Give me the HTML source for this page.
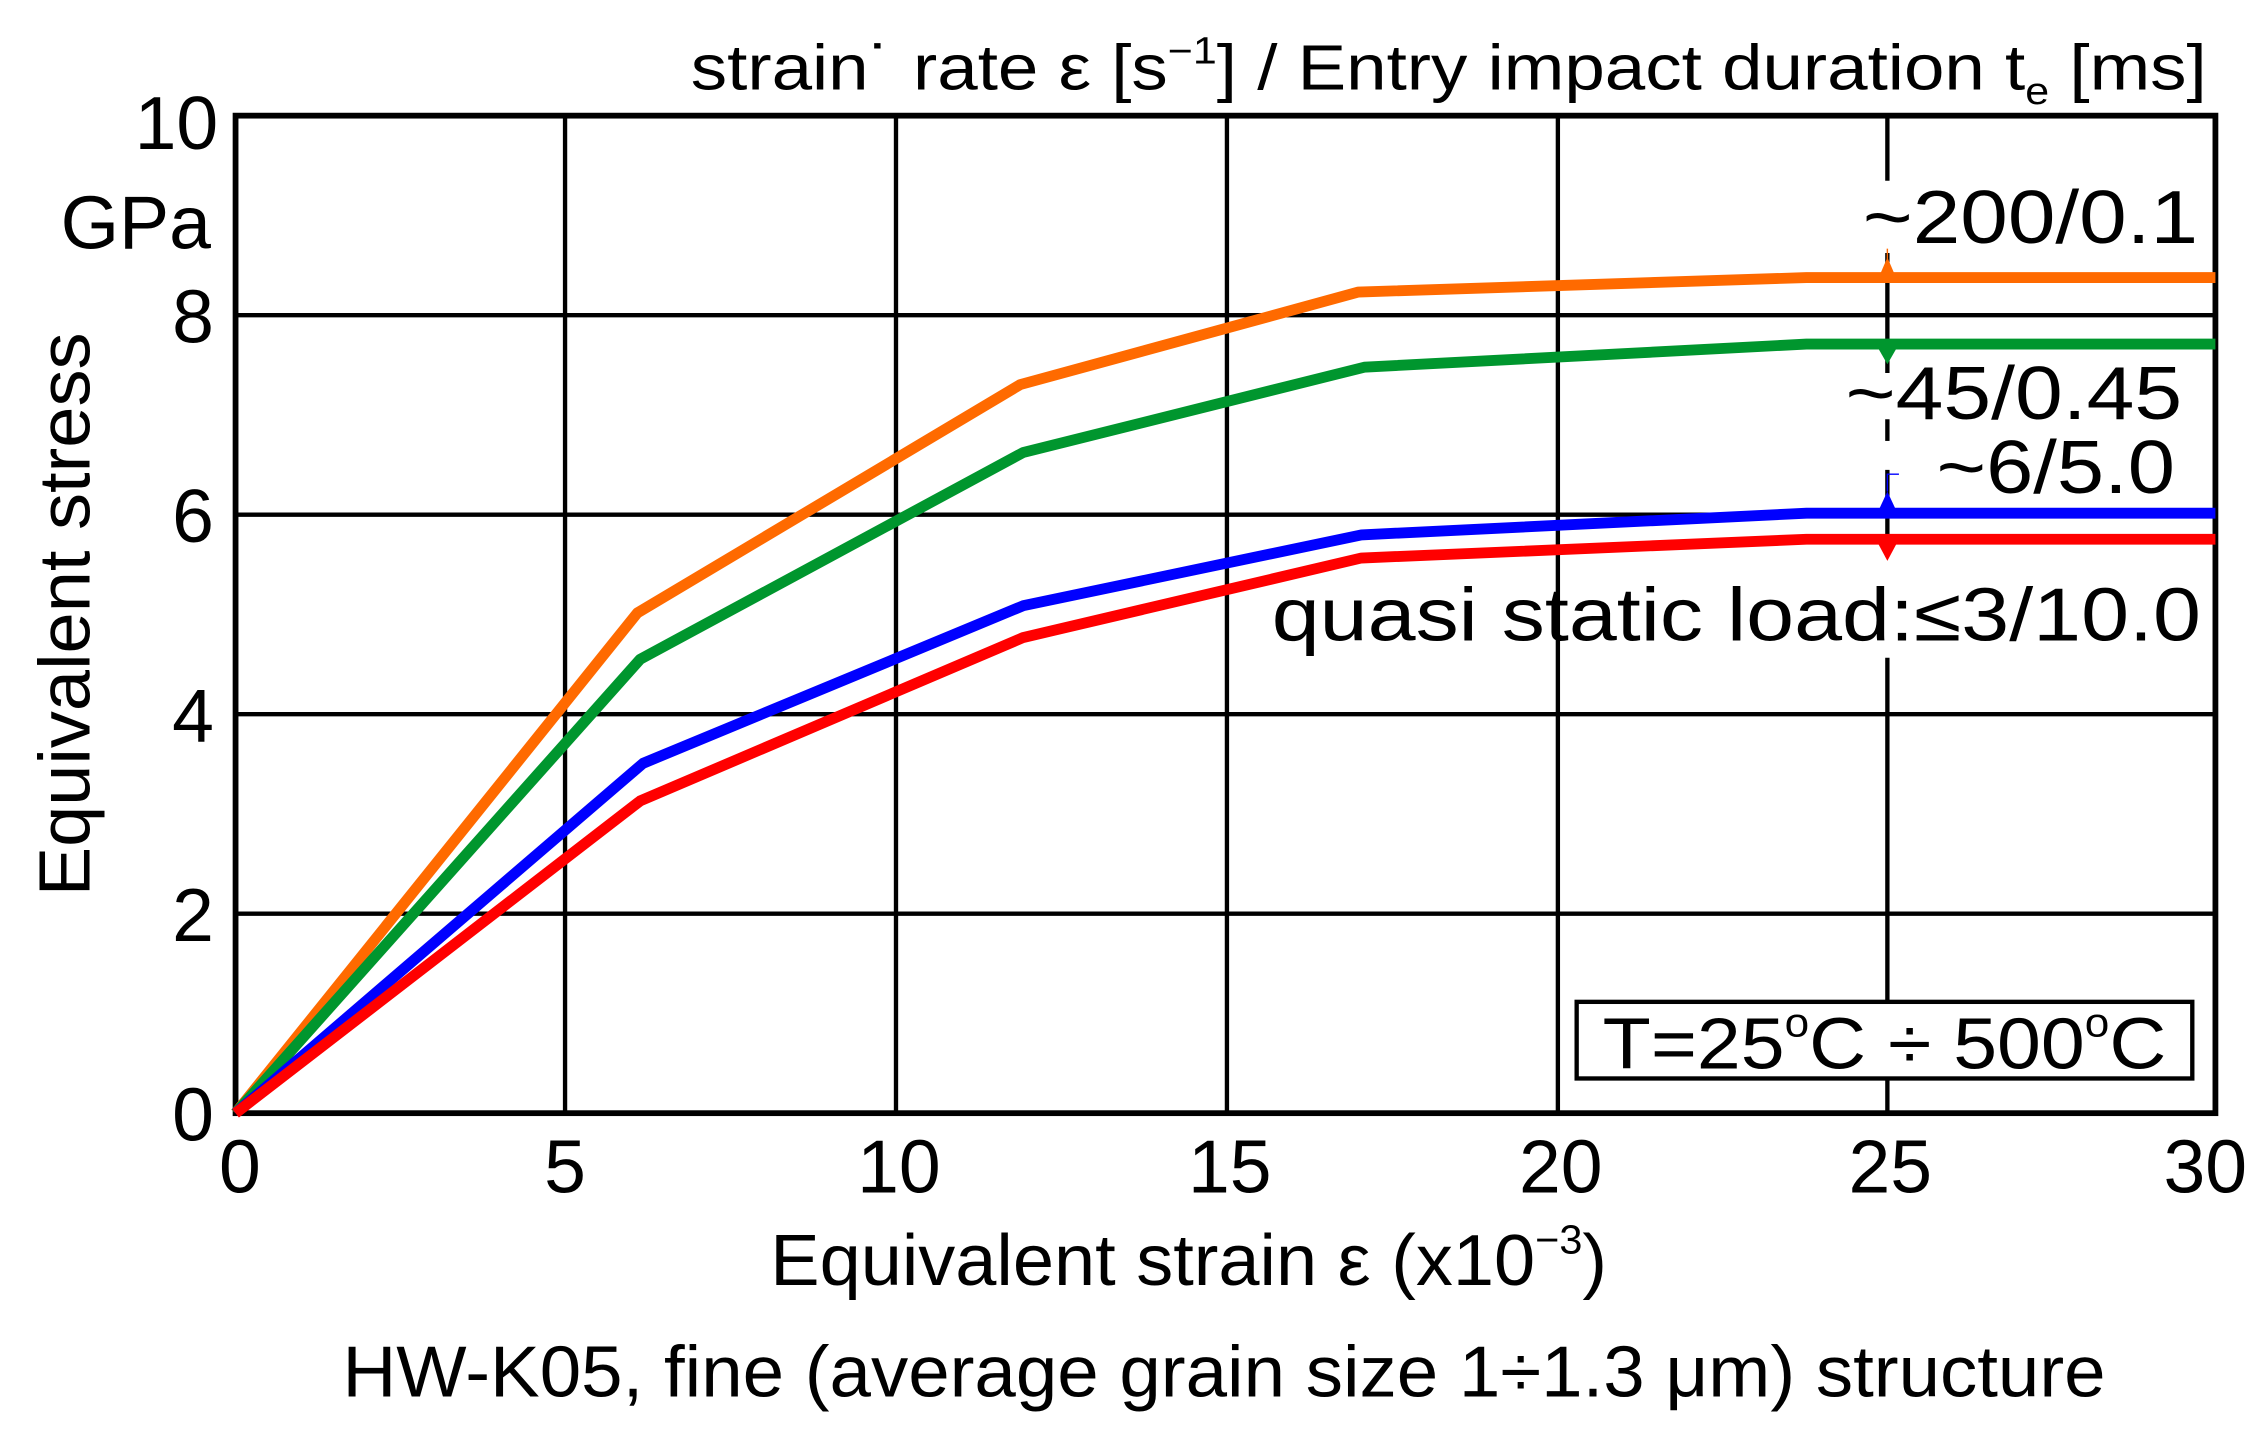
<!DOCTYPE html>
<html><head><meta charset="utf-8"><style>
html,body{margin:0;padding:0;background:#fff;}
svg{display:block;}
text{font-family:"Liberation Sans",Arial,sans-serif;fill:#000;}
</style></head><body>
<svg width="2266" height="1437" viewBox="0 0 1568 994" preserveAspectRatio="none" xmlns="http://www.w3.org/2000/svg">
<rect width="1568" height="994" fill="#fff"/>
<g stroke="#000" stroke-width="3" fill="none">
<line x1="391" y1="80" x2="391" y2="770"/>
<line x1="620" y1="80" x2="620" y2="770"/>
<line x1="849" y1="80" x2="849" y2="770"/>
<line x1="1078" y1="80" x2="1078" y2="770"/>
<line x1="163" y1="218" x2="1533" y2="218"/>
<line x1="163" y1="356" x2="1533" y2="356"/>
<line x1="163" y1="494" x2="1533" y2="494"/>
<line x1="163" y1="632" x2="1533" y2="632"/>
<line x1="1306" y1="80" x2="1306" y2="125"/>
<line x1="1306" y1="175" x2="1306" y2="258"/>
<line x1="1306" y1="290" x2="1306" y2="305"/>
<line x1="1306" y1="325" x2="1306" y2="385"/>
<line x1="1306" y1="455" x2="1306" y2="770"/>
</g>
<rect x="163" y="80" width="1370" height="690" fill="none" stroke="#000" stroke-width="4"/>
<g fill="none" stroke-width="7.5" stroke-linejoin="round">
<polyline stroke="#ff6a00" points="163,770 441,424 706,266 940,202 1250,192 1533,192"/>
<polyline stroke="#00962e" points="163,770 443,456 708,313 944,254 1250,238 1533,238"/>
<polyline stroke="#0000ff" points="163,770 445,528 708,419 942,370 1250,355 1533,355"/>
<polyline stroke="#ff0000" points="163,770 443,554 708,441 942,386 1250,373 1533,373"/>
</g>
<polygon points="1300,192 1312,192 1306,178" fill="#ff6a00"/>
<line x1="1306" y1="172" x2="1306" y2="190" stroke="#ff6a00" stroke-width="1"/>
<polygon points="1298,238 1314,238 1306,252" fill="#00962e"/>
<polygon points="1299,355 1313,355 1306,340" fill="#0000ff"/>
<path d="M1306,340 V328 H1314" stroke="#0000ff" stroke-width="1" fill="none"/>
<polygon points="1298,373 1314,373 1306,388" fill="#ff0000"/>
<text x="1527" y="62" font-size="44" text-anchor="end" textLength="1049" lengthAdjust="spacingAndGlyphs">strain˙ rate ε [s<tspan font-size="26" dy="-18">−1</tspan><tspan dy="18">] / Entry impact duration t</tspan><tspan font-size="26" dy="10">e</tspan><tspan dy="-10"> [ms]</tspan></text>
<g font-size="52" text-anchor="end">
<text x="151" y="103">10</text>
<text x="146" y="172">GPa</text>
<text x="148" y="237">8</text>
<text x="148" y="375">6</text>
<text x="148" y="513">4</text>
<text x="148" y="651">2</text>
<text x="148" y="789">0</text>
</g>
<g font-size="52" text-anchor="middle">
<text x="166" y="825">0</text>
<text x="391" y="825">5</text>
<text x="622" y="825">10</text>
<text x="851" y="825">15</text>
<text x="1080" y="825">20</text>
<text x="1308" y="825">25</text>
<text x="1526" y="825">30</text>
</g>
<text transform="translate(62,425) rotate(-90)" font-size="50" text-anchor="middle" textLength="390" lengthAdjust="spacingAndGlyphs">Equivalent stress</text>
<text x="533" y="889" font-size="50" textLength="579" lengthAdjust="spacingAndGlyphs">Equivalent strain ε (x10<tspan font-size="28" dy="-22">−3</tspan><tspan dy="22">)</tspan></text>
<text x="237" y="966" font-size="50" textLength="1220" lengthAdjust="spacingAndGlyphs">HW-K05, fine (average grain size 1÷1.3 μm) structure</text>
<g font-size="52" text-anchor="end">
<text x="1521" y="168" textLength="232" lengthAdjust="spacingAndGlyphs">~200/0.1</text>
<text x="1510" y="290" textLength="233" lengthAdjust="spacingAndGlyphs">~45/0.45</text>
<text x="1505" y="341" textLength="165" lengthAdjust="spacingAndGlyphs">~6/5.0</text>
<text x="1523" y="443" textLength="643" lengthAdjust="spacingAndGlyphs">quasi static load:≤3/10.0</text>
</g>
<rect x="1091" y="693" width="426" height="53" fill="#fff" stroke="#000" stroke-width="3"/>
<text x="1304" y="739" font-size="50" text-anchor="middle" textLength="390" lengthAdjust="spacingAndGlyphs">T=25<tspan font-size="28" dy="-22">o</tspan><tspan dy="22">C ÷ 500</tspan><tspan font-size="28" dy="-22">o</tspan><tspan dy="22">C</tspan></text>
</svg>
</body></html>
